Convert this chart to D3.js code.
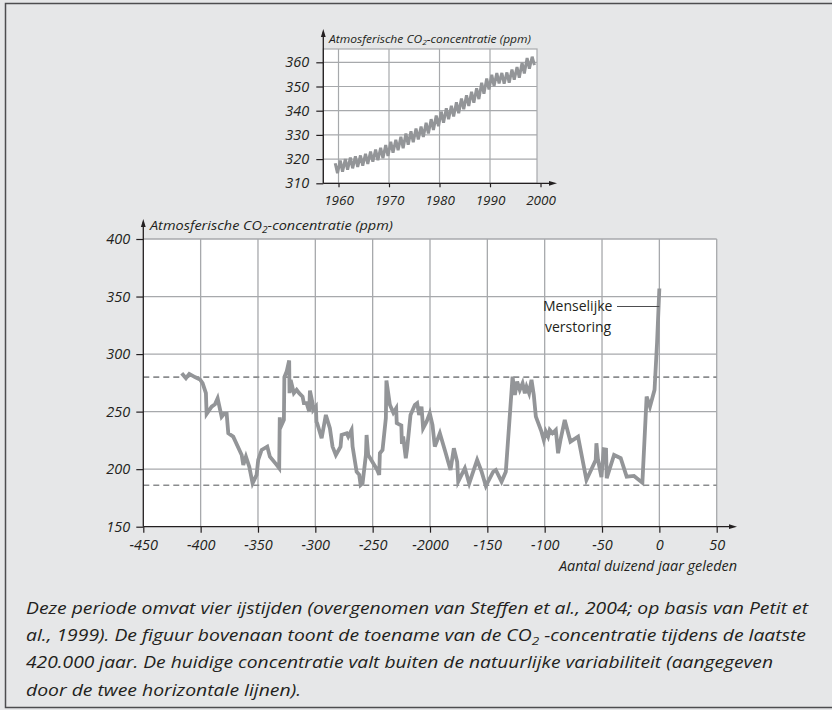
<!DOCTYPE html>
<html>
<head>
<meta charset="utf-8">
<script src="https://cdn.jsdelivr.net/npm/d3@7/dist/d3.min.js"></script>
<style>
  body { margin: 0; background: #e6e7e8; }
  svg { display: block; font-family: "Open Sans", sans-serif; }
</style>
</head>
<body>
<svg id="chart" width="832" height="710"></svg>
<script>
// Mauna Loa (top panel): yearly seasonal maximum and minimum
const mlYears = [1959,1960,1961,1962,1963,1964,1965,1966,1967,1968,1969,1970,1971,1972,1973,1974,1975,1976,1977,1978,
                 1979,1980,1981,1982,1983,1984,1985,1986,1987,1988,1989,1990,1991,1992,1993,1994,1995,1996,1997,1998];
const mlPeaks = [318.3,319.4,320.0,320.6,321.1,321.5,322.2,323.1,323.9,324.7,325.8,327.2,328.0,329.2,330.6,331.5,332.6,333.4,335.0,336.5,
                 338.0,339.6,341.0,342.0,343.5,345.0,346.4,347.8,349.3,351.5,353.3,354.8,355.6,355.6,355.8,357.0,358.0,359.8,361.8,362.3];
const mlTroughs = [314.2,314.8,315.6,316.2,316.8,317.3,318.0,318.9,319.6,320.4,321.3,322.6,323.7,324.5,326.0,327.0,328.1,329.2,330.6,332.0,
                   333.6,335.0,336.5,337.6,339.0,340.6,342.0,343.3,344.8,347.0,348.8,350.2,351.3,351.2,351.6,352.8,353.6,355.4,357.4,358.8];
const topYTicks = [310, 320, 330, 340, 350, 360];
const topXTicks = [1960, 1970, 1980, 1990, 2000];

// Vostok record (bottom panel): thousand years ago vs ppm
const iceAge = [-416.5,-412.8,-409.9,-405,-400.6,-398.3,-395.4,-394.8,-390.4,-387.5,-385.2,-381.7,-379.7,-377.3,-375.9,-371.6,
  -364.2,-362.8,-360.5,-357.6,-354.7,-351.2,-349.8,-346.8,-341.9,-339.6,-333.7,-331.5,-331,-330,-327.4,-327,-325,-322.8,-322.5,
  -321.5,-318.7,-316.3,-314.1,-311.1,-310,-307.6,-305.3,-304.7,-302.4,-301.8,-299.5,-299,-298.4,-294.5,-290.8,-287.3,-285,
  -282.1,-278,-277.1,-272.7,-271.3,-268.4,-267.5,-264,-261.7,-260.5,-258.8,-255.9,-255.3,-253.9,-246,-244.3,-243.7,-241.4,
  -238.5,-238,-235,-232,-229.5,-229,-225,-224.5,-223.4,-221.1,-219.9,-217,-213.2,-211.2,-209.5,-207.4,-206,-203,-200.2,
  -197.8,-195.8,-191.4,-187.1,-182.1,-179.2,-176.3,-175.4,-169.6,-165.8,-158.9,-155,-151.3,-144.9,-142.6,-137.6,-133.9,
  -128,-126,-124,-121.7,-119.3,-117.3,-115.8,-113.6,-111.5,-109.5,-107.7,-102.8,-100.8,-99,-97,-95.6,-93.2,-90.3,-88.3,
  -86.2,-82.5,-77.5,-70.9,-63.6,-55.5,-54.9,-53.5,-50.5,-48.5,-46.5,-45.9,-39.5,-33.7,-28.5,-22.1,-14.8,-11.1,-8.2,-4.2,-2,0];
const iceCO2 = [283.4,279,282.8,280,278,274.7,266,248,254.3,256.4,261.6,245.6,248,248,231.2,228.3,
  212.3,203.7,210.9,202.2,187.7,195,208,216.7,219.6,210.9,203.7,200.8,245,237,242.8,280,284.8,294.4,266,
  277.6,266,268.9,266,263,257.3,257.3,250,268.3,257.3,251.5,254.3,241,239.9,226.9,247.1,235.6,219.6,
  212.3,219.6,229.7,231.2,228.3,234.1,219.6,197.8,195,186.3,187.8,212.3,229.7,212.3,199.3,195,213.8,216.7,
  244.3,277,256,249,253,240,238,222,228.3,209.5,218.2,247.1,255.8,257.3,247.1,254.3,235.6,241.3,248.6,
  238.4,219.6,231.2,216.7,199.3,218.2,206.5,189.1,200.8,187.7,208,197.8,185.4,197.8,199.3,189.1,197.8,
  280.4,264.5,276.1,268.9,274.7,266,271.7,266,277.6,264.5,245.7,232.6,225.4,232.6,228.3,234.1,231.2,234.1,213.8,
  225.4,242.8,223.9,228.3,190.6,208,222.5,208,193,217.3,217,192.1,212.3,209.5,193.5,194.1,188.3,263,254.3,268.9,310,357];
const bottomXTicks = [-450,-400,-350,-300,-250,-200,-150,-100,-50,0,50];
const bottomXLabels = ["-450","-400","-350","-300","-250","-2000","-150","-100","-50","0","50"];
const bottomYTicks = [150, 200, 250, 300, 350, 400];
const naturalRange = [186, 280];

const captionLines = [
  "Deze periode omvat vier ijstijden (overgenomen van Steffen et al., 2004; op basis van Petit et",
  "al., 1999).  De figuur bovenaan toont de toename van de CO|2| -concentratie tijdens de laatste",
  "420.000 jaar. De huidige concentratie valt buiten de natuurlijke variabiliteit (aangegeven",
  "door de twee horizontale lijnen)."
];

const lineGray = "#939598", gridGray = "#a7a9ac", ink = "#231f20";
const svg = d3.select("#chart");

// outer frame
svg.append("rect").attr("x", 5.5).attr("y", 3.5).attr("width", 900).attr("height", 704)
  .attr("fill", "#e6e7e8").attr("stroke", "#4d4d4f").attr("stroke-width", 1.5);

// writes "CO2" style labels: parts between | | become subscripts
function richText(sel, str, size){
  str.split("|").forEach((part, i) => {
    if(i % 2 === 1){
      sel.append("tspan").attr("font-size", size * 0.7).attr("dy", size * 0.22).text(part);
    } else {
      sel.append("tspan").attr("dy", i === 0 ? 0 : -size * 0.22).text(part);
    }
  });
}

function arrow(g, x, y, dir){
  const s = 4;
  const pts = dir === "up" ? [[x, y], [x - s * 0.6, y + s * 2], [x + s * 0.6, y + s * 2]]
                           : [[x, y], [x - s * 2, y - s * 0.6], [x - s * 2, y + s * 0.6]];
  g.append("path").attr("d", d3.line()(pts) + "Z").attr("fill", ink);
}

// axis styling shared by both panels
function styleAxis(g, size){
  g.attr("font-family", null).attr("font-size", null);
  g.select(".domain").remove();
  g.selectAll(".tick line").attr("stroke", ink).attr("stroke-width", 1.2);
  g.selectAll(".tick text")
    .style("font-size", size + "px").style("font-style", "italic").attr("fill", ink);
}

// ---------- top panel ----------
const xT = d3.scaleLinear().domain([1960, 2000]).range([338.5, 540.5]);
const yT = d3.scaleLinear().domain([310, 360]).range([183.3, 62.3]);
const topLeft = 323.3, topRight = 537, topTop = 49;
const gTop = svg.append("g");

gTop.append("rect").attr("x", topLeft).attr("y", topTop)
  .attr("width", topRight - topLeft).attr("height", yT(310) - topTop)
  .attr("fill", "#fff").attr("stroke", gridGray).attr("stroke-width", 1.2);
gTop.selectAll("line.hg").data(topYTicks.slice(1)).join("line")
  .attr("x1", topLeft).attr("x2", topRight).attr("y1", d => yT(d)).attr("y2", d => yT(d))
  .attr("stroke", gridGray).attr("stroke-width", 1.2);
gTop.selectAll("line.vg").data(topXTicks.slice(0, -1)).join("line")
  .attr("x1", d => xT(d)).attr("x2", d => xT(d)).attr("y1", topTop).attr("y2", yT(310))
  .attr("stroke", gridGray).attr("stroke-width", 1.2);

const mlPoints = [];
mlYears.forEach((yr, i) => {
  mlPoints.push([yr + 0.35, mlPeaks[i]]);
  mlPoints.push([yr + 0.8, mlTroughs[i]]);
});
gTop.append("path").datum(mlPoints)
  .attr("d", d3.line().x(d => xT(d[0])).y(d => yT(d[1])))
  .attr("fill", "none").attr("stroke", lineGray).attr("stroke-width", 3).attr("stroke-linejoin", "miter");

gTop.append("g").attr("transform", `translate(${topLeft},0)`)
  .call(d3.axisLeft(yT).tickValues(topYTicks).tickSize(7).tickPadding(7))
  .call(g => styleAxis(g, 14.5));
gTop.append("g").attr("transform", `translate(0,${yT(310)})`)
  .call(d3.axisBottom(xT).tickValues(topXTicks).tickSize(4).tickPadding(8).tickFormat(d3.format("d")))
  .call(g => styleAxis(g, 13.5));
gTop.append("line").attr("x1", topLeft).attr("x2", 553).attr("y1", yT(310)).attr("y2", yT(310))
  .attr("stroke", ink).attr("stroke-width", 1.3);
gTop.append("line").attr("x1", topLeft).attr("x2", topLeft).attr("y1", yT(310)).attr("y2", 32)
  .attr("stroke", ink).attr("stroke-width", 1.3);
arrow(gTop, 557, yT(310), "right");
arrow(gTop, topLeft, 29, "up");
richText(gTop.append("text").attr("x", 329).attr("y", 42.5).attr("font-size", 11)
  .attr("font-style", "italic").attr("fill", ink)
  .attr("textLength", 202).attr("lengthAdjust", "spacingAndGlyphs"), "Atmosferische CO|2|-concentratie (ppm)", 11);

// ---------- bottom panel ----------
const xB = d3.scaleLinear().domain([-450, 50]).range([143.3, 716.7]);
const yB = d3.scaleLinear().domain([150, 400]).range([526.7, 239]);
const gBot = svg.append("g");

gBot.append("rect").attr("x", xB(-450)).attr("y", yB(400))
  .attr("width", xB(50) - xB(-450)).attr("height", yB(150) - yB(400)).attr("fill", "#fff");
gBot.selectAll("line.hg").data(bottomYTicks.slice(1)).join("line")
  .attr("x1", xB(-450)).attr("x2", xB(50)).attr("y1", d => yB(d)).attr("y2", d => yB(d))
  .attr("stroke", gridGray).attr("stroke-width", 1.3);
gBot.selectAll("line.vg").data(bottomXTicks.slice(1)).join("line")
  .attr("x1", d => xB(d)).attr("x2", d => xB(d)).attr("y1", yB(400)).attr("y2", yB(150))
  .attr("stroke", gridGray).attr("stroke-width", 1.3);
gBot.selectAll("line.nat").data(naturalRange).join("line")
  .attr("x1", xB(-450)).attr("x2", xB(50)).attr("y1", d => yB(d)).attr("y2", d => yB(d))
  .attr("stroke", "#8a8c8e").attr("stroke-width", 1.6).attr("stroke-dasharray", "6,4");

gBot.append("path").datum(d3.zip(iceAge, iceCO2))
  .attr("d", d3.line().x(d => xB(d[0])).y(d => yB(d[1])))
  .attr("fill", "none").attr("stroke", lineGray).attr("stroke-width", 3.8).attr("stroke-linejoin", "miter");

gBot.append("g").attr("transform", `translate(${xB(-450)},0)`)
  .call(d3.axisLeft(yB).tickValues(bottomYTicks).tickSize(7).tickPadding(6))
  .call(g => styleAxis(g, 14.5));
gBot.append("g").attr("transform", `translate(0,${yB(150)})`)
  .call(d3.axisBottom(xB).tickValues(bottomXTicks).tickSize(6).tickPadding(7)
    .tickFormat((d, i) => bottomXLabels[i]))
  .call(g => styleAxis(g, 14.5));
gBot.append("line").attr("x1", xB(-450)).attr("x2", 733).attr("y1", yB(150)).attr("y2", yB(150))
  .attr("stroke", ink).attr("stroke-width", 1.3);
gBot.append("line").attr("x1", xB(-450)).attr("x2", xB(-450)).attr("y1", yB(150)).attr("y2", 222)
  .attr("stroke", ink).attr("stroke-width", 1.3);
arrow(gBot, 737, yB(150), "right");
arrow(gBot, xB(-450), 219, "up");
richText(gBot.append("text").attr("x", 150).attr("y", 230).attr("font-size", 13.5)
  .attr("font-style", "italic").attr("fill", ink)
  .attr("textLength", 243).attr("lengthAdjust", "spacingAndGlyphs"), "Atmosferische CO|2|-concentratie (ppm)", 13.5);
gBot.append("text").attr("x", 737).attr("y", 571).attr("text-anchor", "end")
  .attr("font-size", 14).attr("font-style", "italic").attr("fill", ink)
  .attr("textLength", 178).attr("lengthAdjust", "spacingAndGlyphs")
  .text("Aantal duizend jaar geleden");

// annotation
gBot.append("text").attr("x", 543).attr("y", 311).attr("font-size", 14).attr("fill", ink).text("Menselijke");
gBot.append("text").attr("x", 545).attr("y", 332).attr("font-size", 14).attr("fill", ink).text("verstoring");
gBot.append("line").attr("x1", 617).attr("x2", xB(0)).attr("y1", 306.5).attr("y2", 306.5)
  .attr("stroke", "#4d4d4f").attr("stroke-width", 1.2);

// caption
const capWidths = [782, 780, 747, 275];
captionLines.forEach((line, i) => {
  const t = svg.append("text").attr("x", 26).attr("y", 614 + i * 27.2)
    .attr("font-size", 16.5).attr("font-style", "italic").attr("fill", ink)
    .attr("textLength", capWidths[i]).attr("lengthAdjust", "spacingAndGlyphs");
  richText(t, line, 16.5);
});
</script>
</body>
</html>
